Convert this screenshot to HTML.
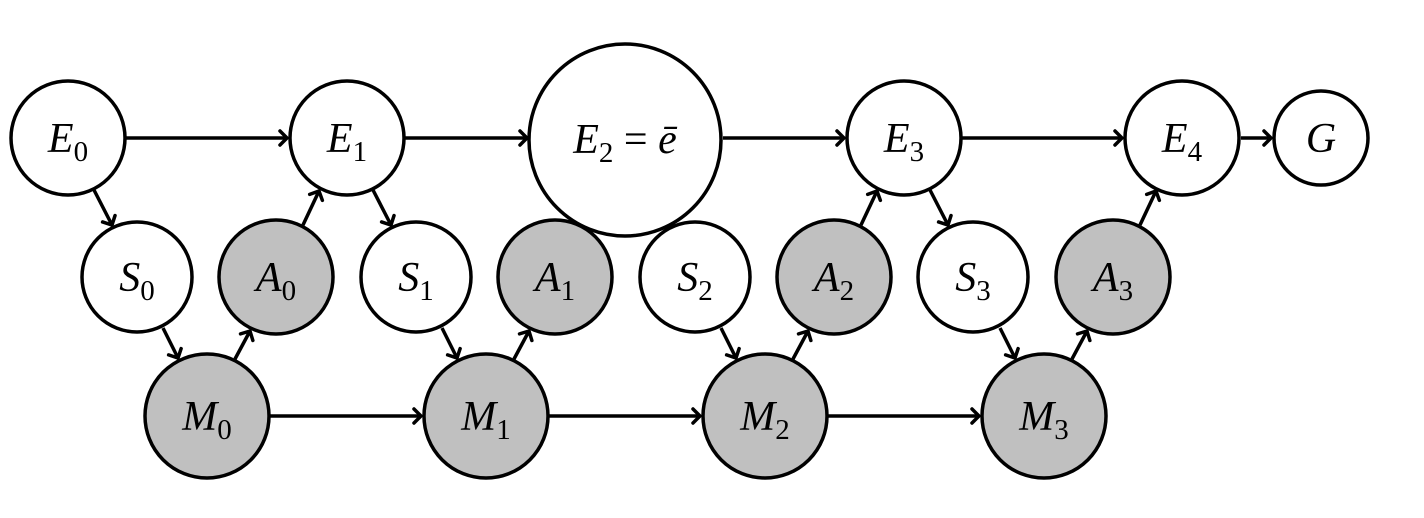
<!DOCTYPE html>
<html><head><meta charset="utf-8"><style>
html,body{margin:0;padding:0;background:#fff;}
svg{display:block;}
text{font-family:"Liberation Serif",serif;font-size:42px;font-style:italic;fill:#000;}
.s{font-style:normal;font-size:29px;}
.n{font-style:normal;}
</style></head><body>
<svg width="1424" height="518" viewBox="0 0 1424 518" xmlns="http://www.w3.org/2000/svg">
<defs>
<marker id="ar" markerUnits="userSpaceOnUse" markerWidth="20" markerHeight="20" viewBox="-10 -10 20 20" refX="0" refY="0" orient="auto">
<path d="M-7,-7 Q-1.5,-1.5 0,0 Q-1.5,1.5 -7,7" fill="none" stroke="#000" stroke-width="3.5" stroke-linecap="round"/>
</marker>
</defs>
<g stroke="#000" stroke-width="3.5" fill="none" marker-end="url(#ar)">
<line x1="126" y1="138" x2="287" y2="138"/>
<line x1="405" y1="138" x2="527" y2="138"/>
<line x1="723" y1="138" x2="844" y2="138"/>
<line x1="962" y1="138" x2="1122" y2="138"/>
<line x1="1241" y1="138" x2="1271" y2="138"/>
<line x1="270" y1="416" x2="421" y2="416"/>
<line x1="549" y1="416" x2="700" y2="416"/>
<line x1="828" y1="416" x2="979" y2="416"/>
<!-- E->S -->
<line x1="94" y1="190" x2="112" y2="225"/>
<line x1="373" y1="190" x2="391" y2="225"/>
<line x1="930" y1="190" x2="948" y2="225"/>
<!-- S->M -->
<line x1="163" y1="328" x2="178" y2="358"/>
<line x1="442" y1="328" x2="457" y2="358"/>
<line x1="721" y1="328" x2="736" y2="358"/>
<line x1="1000" y1="328" x2="1015" y2="358"/>
<!-- M->A -->
<line x1="235" y1="359" x2="250" y2="331"/>
<line x1="514" y1="359" x2="529" y2="331"/>
<line x1="793" y1="359" x2="808" y2="331"/>
<line x1="1072" y1="359" x2="1087" y2="331"/>
<!-- A->E -->
<line x1="861" y1="225" x2="877" y2="191"/>
<line x1="303" y1="225" x2="319" y2="191"/>
<line x1="1140" y1="225" x2="1156" y2="191"/>
</g>
<g stroke="#000" stroke-width="3.5">
<circle cx="68" cy="138" r="57" fill="#fff"/>
<circle cx="347" cy="138" r="57" fill="#fff"/>
<circle cx="625" cy="140" r="96" fill="#fff"/>
<circle cx="904" cy="138" r="57" fill="#fff"/>
<circle cx="1182" cy="138" r="57" fill="#fff"/>
<circle cx="1321" cy="138" r="47" fill="#fff"/>
<circle cx="137" cy="277" r="55" fill="#fff"/>
<circle cx="416" cy="277" r="55" fill="#fff"/>
<circle cx="695" cy="277" r="55" fill="#fff"/>
<circle cx="973" cy="277" r="55" fill="#fff"/>
<circle cx="276" cy="277" r="57" fill="#c0c0c0"/>
<circle cx="555" cy="277" r="57" fill="#c0c0c0"/>
<circle cx="834" cy="277" r="57" fill="#c0c0c0"/>
<circle cx="1113" cy="277" r="57" fill="#c0c0c0"/>
<circle cx="207" cy="416" r="62" fill="#c0c0c0"/>
<circle cx="486" cy="416" r="62" fill="#c0c0c0"/>
<circle cx="765" cy="416" r="62" fill="#c0c0c0"/>
<circle cx="1044" cy="416" r="62" fill="#c0c0c0"/>
</g>
<g text-anchor="middle">
<text x="68" y="152">E<tspan class="s" dy="9">0</tspan></text>
<text x="347" y="152">E<tspan class="s" dy="9">1</tspan></text>
<text x="625" y="153">E<tspan class="s" dy="9">2</tspan><tspan class="n" dy="-9"> = </tspan>ē</text>
<text x="904" y="152">E<tspan class="s" dy="9">3</tspan></text>
<text x="1182" y="152">E<tspan class="s" dy="9">4</tspan></text>
<text x="1321" y="152">G</text>
<text x="137" y="291">S<tspan class="s" dy="9">0</tspan></text>
<text x="416" y="291">S<tspan class="s" dy="9">1</tspan></text>
<text x="695" y="291">S<tspan class="s" dy="9">2</tspan></text>
<text x="973" y="291">S<tspan class="s" dy="9">3</tspan></text>
<text x="276" y="291">A<tspan class="s" dy="9">0</tspan></text>
<text x="555" y="291">A<tspan class="s" dy="9">1</tspan></text>
<text x="834" y="291">A<tspan class="s" dy="9">2</tspan></text>
<text x="1113" y="291">A<tspan class="s" dy="9">3</tspan></text>
<text x="207" y="430">M<tspan class="s" dy="9">0</tspan></text>
<text x="486" y="430">M<tspan class="s" dy="9">1</tspan></text>
<text x="765" y="430">M<tspan class="s" dy="9">2</tspan></text>
<text x="1044" y="430">M<tspan class="s" dy="9">3</tspan></text>
</g>
</svg>
</body></html>
